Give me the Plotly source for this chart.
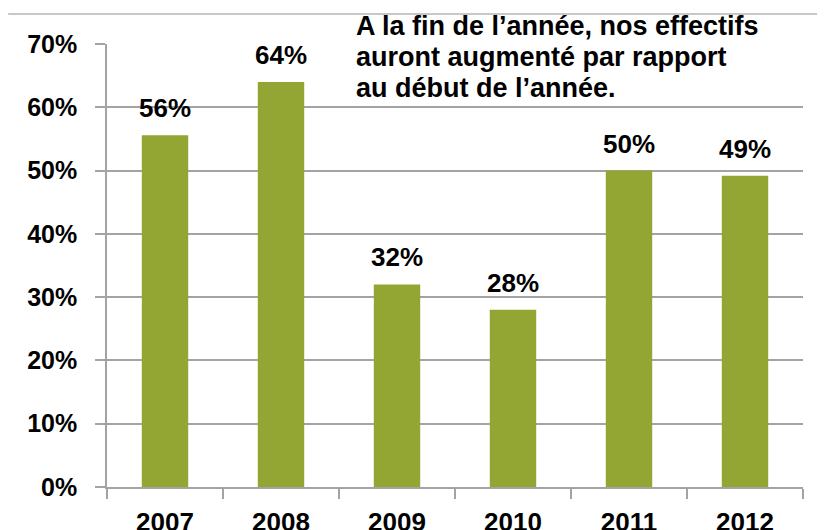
import plotly.graph_objects as go

years = ["2007", "2008", "2009", "2010", "2011", "2012"]
values = [55.6, 64.0, 32.0, 28.0, 50.0, 49.2]
value_labels = ["56%", "64%", "32%", "28%", "50%", "49%"]
y_ticks = [0, 10, 20, 30, 40, 50, 60, 70]
y_tick_labels = ["0%", "10%", "20%", "30%", "40%", "50%", "60%", "70%"]
title_lines = ["A la fin de l\u2019année, nos effectifs",
               "auront augmenté par rapport",
               "au début de l\u2019année."]
title_line_pos = [1.041, 0.970, 0.901]

FONT = "Arial, Liberation Sans, sans-serif"
GRID = "#A3A3A3"
BAR = "#93A634"

fig = go.Figure(go.Bar(
    x=years, y=values, marker=dict(color=BAR, line=dict(width=0)),
    hoverinfo="skip",
))

for i, (v, t) in enumerate(zip(values, value_labels)):
    fig.add_annotation(x=i, y=v, text=t, showarrow=False, yanchor="bottom",
                       yshift=10, font=dict(family=FONT, size=26, color="black", weight="bold"))

for line, ypos in zip(title_lines, title_line_pos):
    fig.add_annotation(xref="paper", yref="paper", x=0.355, y=ypos,
                       xanchor="left", yanchor="middle", align="left",
                       text=line, showarrow=False,
                       font=dict(family=FONT, size=27, color="black", weight="bold"))

fig.add_shape(type="line", xref="paper", yref="paper", x0=-0.142, x1=1.05,
              y0=1.0677, y1=1.0677, line=dict(color="#B5B5B5", width=1.5))

fig.update_layout(
    width=825, height=530,
    margin=dict(l=99, r=30, t=36, b=51, autoexpand=False),
    paper_bgcolor="white", plot_bgcolor="white",
    bargap=0.6, showlegend=False,
    xaxis=dict(type="category", range=[-0.5, len(years) - 0.5], automargin=False,
               showline=True, linecolor=GRID, linewidth=1.5, tickangle=0,
               ticks="outside", tickson="boundaries", ticklen=10, tickcolor=GRID,
               tickwidth=1.5, showgrid=False, ticklabelstandoff=11,
               tickfont=dict(family=FONT, size=26, color="black", weight="bold")),
    yaxis=dict(range=[0, 70], tickvals=y_ticks, ticktext=y_tick_labels, automargin=False,
               showline=True, linecolor=GRID, linewidth=1.5,
               ticks="outside", ticklen=10, tickcolor=GRID, tickwidth=1.5,
               showgrid=True, gridcolor=GRID, gridwidth=1.5, zeroline=False,
               ticklabelstandoff=13,
               tickfont=dict(family=FONT, size=25, color="black", weight="bold")),
)

fig.write_html("out.html")
